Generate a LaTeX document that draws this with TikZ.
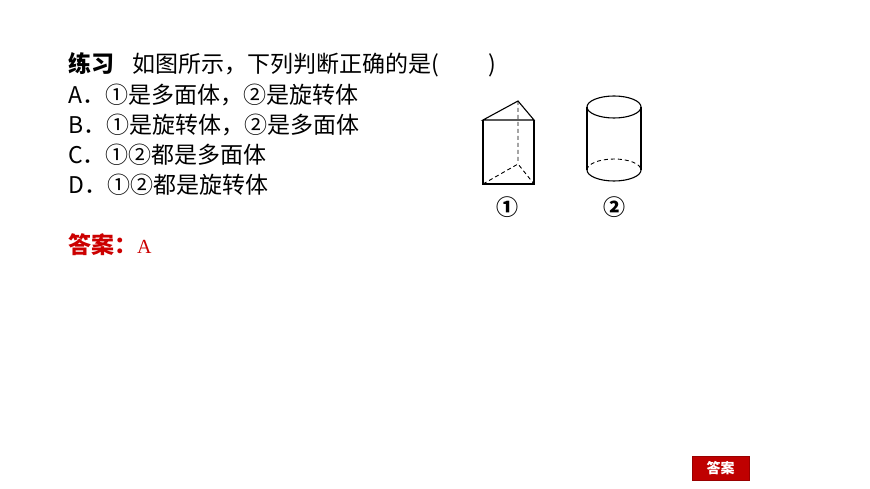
\documentclass[tikz,border=0pt]{standalone}
\usepackage{fontspec}
\setmainfont{Liberation Serif}
\newfontfamily\cjk{Noto Sans CJK SC}
\begin{document}
\begin{tikzpicture}[x=1pt,y=-1pt,
  txt/.style={anchor=west,inner sep=0pt,font=\cjk\fontsize{23}{23}\selectfont},
  ln/.style={line width=1.1pt},
  hid/.style={line width=0.9pt,dash pattern=on 4pt off 3pt}]
\useasboundingbox[fill=white] (0,0) rectangle (870,489);
\node[txt] (q) at (68,65) {\textbf{练习}\hspace{18pt}如图所示，下列判断正确的是(\hspace{50pt})};
\node[txt] (a) at (68,95) {A．①是多面体，②是旋转体};
\node[txt] (b) at (68,125) {B．①是旋转体，②是多面体};
\node[txt] (c) at (68,155) {C．①②都是多面体};
\node[txt] (d) at (68,185) {D．①②都是旋转体};
\node[txt,text=red!80!black] (ans) at (68,245) {\textbf{答案：}\normalfont\fontsize{20}{20}\selectfont A};
% prism
\draw[ln] (483,120) -- (518,101) -- (534,120) -- cycle;
\draw[ln] (483,120) -- (483,184) -- (534,184) -- (534,120);
\draw[hid] (518,101) -- (518,164) (483,184) -- (518,164) -- (534,184);
% cylinder
\draw[ln] (614,107) ellipse [x radius=27, y radius=11];
\draw[ln] (587,107) -- (587,170) (641,107) -- (641,170);
\draw[ln] (587,170) arc[start angle=180,end angle=360,x radius=27,y radius=-11];
\draw[hid] (587,170) arc[start angle=180,end angle=0,x radius=27,y radius=-11];
\node[font=\cjk\bfseries\fontsize{22}{22}\selectfont] (l1) at (507,207) {①};
\node[font=\cjk\bfseries\fontsize{22}{22}\selectfont] (l2) at (614,207) {②};
% button
\node[fill=red!75!black,draw=red!60!black,text=white,minimum width=57pt,minimum height=24pt,inner sep=0pt,font=\cjk\bfseries\fontsize{14}{14}\selectfont] (btn) at (720.5,468) {答案};
\end{tikzpicture}
\end{document}
